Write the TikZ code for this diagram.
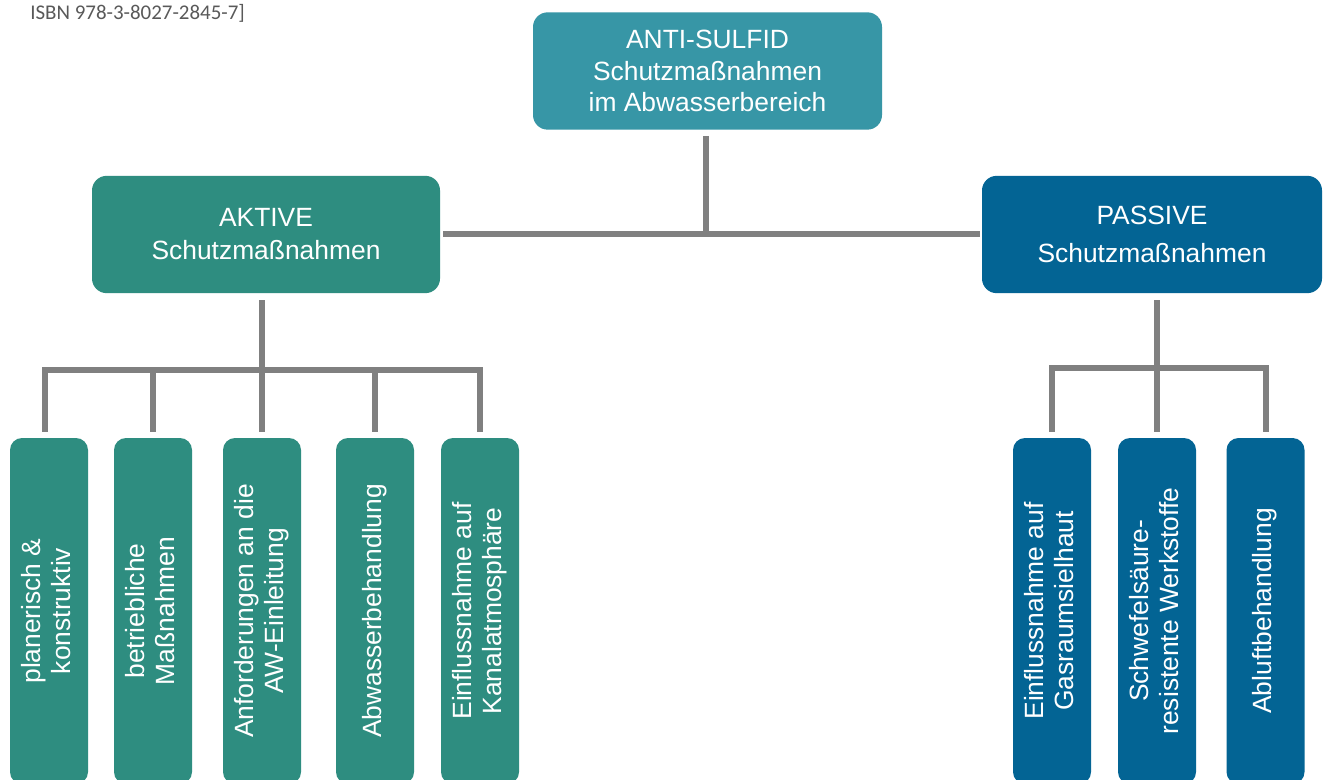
\documentclass[tikz,border=0pt]{standalone}
\usepackage{fontspec}
\setmainfont{Liberation Sans}
\newfontfamily\isbnfont{Carlito}
\usepackage{graphicx}
\definecolor{topc}{HTML}{3796A6}
\definecolor{aktc}{HTML}{2E8D80}
\definecolor{pasc}{HTML}{036494}
\definecolor{linec}{HTML}{808080}
\definecolor{isbnc}{HTML}{595959}
\tikzset{
  bigbox/.style={rounded corners=11pt, text=white, align=center, inner sep=0pt,
    minimum width=#1, minimum height=88pt},
  smallbox/.style={rounded corners=9pt, text=white, inner sep=0pt,
    minimum width=58.5pt, minimum height=259.5pt},
  conn/.style={draw=linec, line width=4.5pt},
}
\newcommand{\vlab}[1]{\rotatebox{90}{\fontsize{19.8}{22.5}\selectfont\begin{tabular}{@{}c@{}}#1\end{tabular}}}
\begin{document}
\begin{tikzpicture}[x=0.75pt,y=-0.75pt]
\clip (0,0) rectangle (1323,780);
\fill[white] (0,0) rectangle (1323,780);

\node[anchor=base west, text=isbnc, inner sep=0pt, font=\isbnfont\fontsize{15.7}{18}\selectfont] (isbn) at (30,20) {ISBN 978-3-8027-2845-7]};

\node[bigbox=261.75pt, fill=topc, font=\fontsize{19.8}{23.6}\selectfont] (top) at (707.5,71)
  {ANTI-SULFID\\Schutzmaßnahmen\\im Abwasserbereich};
\node[bigbox=261pt, fill=aktc, font=\fontsize{19.8}{24.75}\selectfont] (akt) at (266,234.5)
  {AKTIVE\\Schutzmaßnahmen};
\node[bigbox=255pt, fill=pasc, font=\fontsize{19.8}{28.5}\selectfont] (pas) at (1152,234.5)
  {PASSIVE\\Schutzmaßnahmen};

\node[smallbox, fill=aktc] (a1) at (49,611) {\vlab{planerisch \&\\konstruktiv}};
\node[smallbox, fill=aktc] (a2) at (153,611) {\vlab{betriebliche\\Maßnahmen}};
\node[smallbox, fill=aktc] (a3) at (262,611) {\vlab{Anforderungen an die\\AW-Einleitung}};
\node[smallbox, fill=aktc] (a4) at (375,611) {\vlab{Abwasserbehandlung}};
\node[smallbox, fill=aktc] (a5) at (480,611) {\vlab{Einflussnahme auf\\Kanalatmosphäre}};

\node[smallbox, fill=pasc] (p1) at (1052,611) {\vlab{Einflussnahme auf\\Gasraumsielhaut}};
\node[smallbox, fill=pasc] (p2) at (1157,611) {\vlab{Schwefelsäure-\\resistente Werkstoffe}};
\node[smallbox, fill=pasc] (p3) at (1265.5,611) {\vlab{Abluftbehandlung}};

\coordinate (hub) at (706,234);
\coordinate (busL) at (262,370);
\coordinate (busR) at (1157,368);
\coordinate (dropL1) at (45,370);

% top level
\draw[conn, shorten <=4.5pt] (top.south -| hub) -- (hub);
\draw[conn, shorten <=2.25pt, shorten >=1.5pt] (akt.east |- hub) -- (pas.west |- hub);

% left tree
\draw[conn, shorten <=5pt] (akt.south -| busL) -- (busL);
\draw[conn, shorten <=4.5pt, shorten >=4.5pt] (a1.north -| dropL1) -- (dropL1) -- (a5.north |- busL) -- (a5.north);
\draw[conn, shorten >=4.5pt] (a2.north |- busL) -- (a2.north);
\draw[conn, shorten >=4.5pt] (busL) -- (a3.north);
\draw[conn, shorten >=4.5pt] (a4.north |- busL) -- (a4.north);

% right tree
\draw[conn, shorten <=5pt] (pas.south -| busR) -- (busR);
\draw[conn, shorten <=4.5pt, shorten >=4.5pt] (p1.north) -- (p1.north |- busR) -- (p3.north |- busR) -- (p3.north);
\draw[conn, shorten >=4.5pt] (busR) -- (p2.north);
\end{tikzpicture}
\end{document}
